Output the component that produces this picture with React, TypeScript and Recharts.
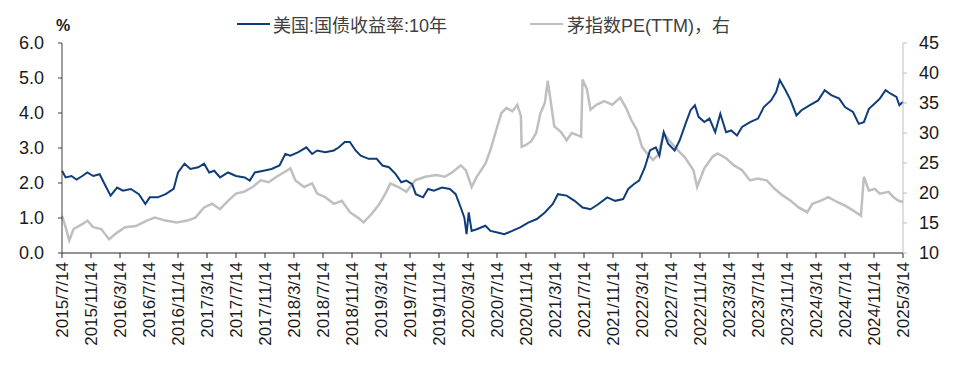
import { LineChart, Line, XAxis, YAxis } from 'recharts'

// x = months since 2015/7/14
const ustMonths = [
  0, 0.5, 1.3, 2.0, 2.8, 3.5, 4.3, 5.2, 5.8, 6.7, 7.6, 8.4, 9.5, 10.6, 11.5, 12.1, 13.2, 14.3, 15.4, 16.0,
  16.9, 17.7, 18.8, 19.6, 20.3, 21.0, 21.8, 22.9, 24.0, 25.2, 25.9, 26.6, 27.8, 28.9, 30.0, 30.8, 31.5, 32.6,
  33.7, 34.5, 35.2, 36.3, 37.5, 38.2, 39.0, 39.7, 40.5, 41.2, 42.3, 43.4, 44.2, 45.1, 46.0, 46.8, 47.5, 48.3,
  48.8, 49.8, 50.5, 51.3, 52.4, 53.5, 54.3, 55.0, 55.5, 55.8, 56.1, 56.5, 57.2, 58.4, 59.1, 60.2, 61.0, 62.1,
  63.2, 64.3, 65.5, 66.6, 67.7, 68.4, 69.6, 70.7, 71.8, 72.9, 74.0, 75.2, 76.3, 77.4, 78.1, 78.9, 79.6, 80.4,
  81.1, 81.9, 82.4, 83.0, 83.6, 84.5, 85.2, 86.0, 86.7, 87.3, 87.8, 88.6, 89.3, 90.1, 90.8, 91.6, 92.3, 93.1,
  93.8, 94.9, 96.0, 96.8, 97.8, 98.5, 99.0, 99.8, 100.5, 101.3, 102.0, 103.1, 104.3, 105.2, 106.1, 107.2,
  108.0, 109.1, 109.9, 110.6, 111.3, 112.1, 112.8, 113.6, 114.3, 115.1, 115.5, 116.0,
]
const ustYield = [
  2.35, 2.16, 2.2, 2.1, 2.2, 2.3, 2.2, 2.25, 2.0, 1.64, 1.87, 1.78, 1.83, 1.68, 1.4, 1.59, 1.59, 1.68, 1.83, 2.3,
  2.55, 2.4, 2.45, 2.55, 2.3, 2.35, 2.16, 2.3, 2.2, 2.16, 2.07, 2.3, 2.35, 2.4, 2.5, 2.83, 2.78, 2.88,
  3.02, 2.83, 2.93, 2.88, 2.93, 3.02, 3.17, 3.17, 2.93, 2.78, 2.69, 2.69, 2.5, 2.45, 2.26, 2.02, 2.07, 1.97,
  1.68, 1.59, 1.83, 1.78, 1.87, 1.83, 1.68, 1.3, 1.01, 0.54, 1.16, 0.63, 0.68, 0.78, 0.63, 0.58, 0.54, 0.63,
  0.73, 0.87, 0.97, 1.16, 1.4, 1.68, 1.64, 1.49, 1.3, 1.25, 1.4, 1.59, 1.49, 1.54, 1.83, 1.97, 2.07, 2.45,
  2.93, 3.02, 2.78, 3.45, 3.12, 2.93, 3.22, 3.69, 4.08, 4.22, 3.89, 3.74, 3.84, 3.45, 3.98, 3.45, 3.5, 3.36,
  3.6, 3.74, 3.84, 4.17, 4.36, 4.6, 4.94, 4.65, 4.36, 3.93, 4.08, 4.22, 4.36, 4.65, 4.51, 4.41,
  4.17, 4.03, 3.69, 3.74, 4.12, 4.27, 4.41, 4.65, 4.55, 4.46, 4.22, 4.32,
]

const peMonths = [
  0, 0.5, 1.0, 1.6, 2.8, 3.5, 4.3, 5.4, 6.5, 7.6, 8.7, 10.2, 11.7, 12.8, 14.3, 15.8, 17.3, 18.4, 19.6, 20.7,
  21.8, 22.9, 24.0, 25.1, 26.3, 27.4, 28.5, 29.6, 30.7, 31.5, 32.2, 33.4, 34.5, 35.2, 36.3, 37.5, 38.6, 39.7,
  40.8, 41.6, 42.7, 43.8, 44.6, 45.3, 46.4, 47.5, 48.7, 50.1, 51.6, 52.8, 53.9, 55.0, 55.7, 56.5, 57.2, 58.4,
  59.1, 59.9, 60.6, 61.3, 62.1, 62.8, 63.3, 63.4, 64.0, 64.7, 65.4, 66.0, 66.6, 67.0, 67.5, 67.9, 68.8, 69.6,
  70.3, 71.0, 71.6, 71.8, 72.4, 72.9, 73.7, 74.8, 75.9, 77.0, 77.8, 78.5, 79.3, 80.0, 80.7, 81.5, 82.2, 83.0,
  83.7, 84.9, 86.0, 87.1, 87.6, 88.6, 89.7, 90.4, 91.6, 92.7, 93.8, 94.9, 96.0, 97.2, 98.3, 99.4, 100.5,
  101.6, 102.8, 103.5, 104.6, 105.7, 106.9, 108.0, 109.1, 110.2, 110.6, 111.3, 112.1, 112.8, 114.0, 114.7,
  115.4, 116.0,
]
const peValue = [
  16.2, 14.3, 12.1, 14.0, 14.8, 15.4, 14.3, 14.0, 12.3, 13.4, 14.3, 14.5, 15.4, 15.9, 15.4, 15.1, 15.4, 15.9, 17.6, 18.2,
  17.3, 18.7, 19.9, 20.2, 21.0, 22.1, 21.8, 22.7, 23.5, 24.1, 22.1, 21.0, 21.6, 19.9, 19.3, 18.2, 18.7, 16.8,
  15.9, 15.1, 16.5, 18.2, 19.9, 21.6, 21.0, 20.2, 22.1, 22.7, 23.0, 22.7, 23.5, 24.6, 23.8, 21.0, 22.7, 24.9,
  27.2, 30.5, 33.3, 34.2, 33.6, 34.7, 32.8, 27.7, 28.0, 28.6, 30.0, 33.3, 35.0, 38.7, 34.5, 31.1, 30.2, 28.8,
  30.0, 29.7, 29.4, 38.9, 37.3, 33.9, 34.7, 35.3, 34.7, 35.9, 34.2, 32.2, 30.5, 27.7, 26.6, 25.5, 26.3, 30.0,
  28.8, 27.2, 25.8, 23.8, 21.0, 24.1, 26.0, 26.6, 25.8, 24.6, 23.8, 22.1, 22.4, 22.1, 20.7, 19.6, 18.7,
  17.6, 16.8, 18.2, 18.7, 19.3, 18.5, 17.9, 17.1, 16.2, 22.7, 20.4, 20.7, 19.9, 20.2, 19.3,
  18.7, 18.5,
]

const tickLabels = [
  '2015/7/14', '2015/11/14', '2016/3/14', '2016/7/14', '2016/11/14', '2017/3/14', '2017/7/14', '2017/11/14',
  '2018/3/14', '2018/7/14', '2018/11/14', '2019/3/14', '2019/7/14', '2019/11/14', '2020/3/14', '2020/7/14',
  '2020/11/14', '2021/3/14', '2021/7/14', '2021/11/14', '2022/3/14', '2022/7/14', '2022/11/14', '2023/3/14',
  '2023/7/14', '2023/11/14', '2024/3/14', '2024/7/14', '2024/11/14', '2025/3/14',
]
const tickMonths = tickLabels.map((_, i) => i * 4)
const leftTicks = [0, 1, 2, 3, 4, 5, 6]
const rightTicks = [10, 15, 20, 25, 30, 35, 40, 45]

const NAVY = '#0f3d7a'
const GRAY = '#bfbfbf'
const FONT = '"Liberation Sans", Arial, "Noto Sans CJK SC", sans-serif'

// merge both series into one table keyed by month
const byMonth = new Map<number, { t: number; ust?: number; pe?: number }>()
ustMonths.forEach((t, i) => {
  const row = byMonth.get(t) ?? { t }
  row.ust = ustYield[i]
  byMonth.set(t, row)
})
peMonths.forEach((t, i) => {
  const row = byMonth.get(t) ?? { t }
  row.pe = peValue[i]
  byMonth.set(t, row)
})
const rows = [...byMonth.values()].sort((a, b) => a.t - b.t)

function DateTick({ x, y, payload }: any) {
  const label = tickLabels[Math.round(payload.value / 4)]
  return (
    <text
      x={x}
      y={y}
      transform={`rotate(-90, ${x}, ${y})`}
      textAnchor="end"
      dominantBaseline="central"
      fontSize={17}
      fill="#1a1a1a"
      fontFamily={FONT}
    >
      {label}
    </text>
  )
}

export default function App() {
  return (
    <div style={{ position: 'relative', width: 944, height: 349, fontFamily: FONT }}>
      <LineChart
        width={944}
        height={349}
        data={rows}
        margin={{ top: 35, right: 0, left: 0, bottom: 0 }}
      >
        <XAxis
          dataKey="t"
          type="number"
          domain={[0, 116]}
          ticks={tickMonths}
          interval={0}
          height={104}
          tickSize={5}
          tickMargin={4}
          stroke="#262626"
          tick={<DateTick />}
        />
        <YAxis
          yAxisId="left"
          domain={[0, 6]}
          ticks={leftTicks}
          width={54}
          tickSize={4}
          tickMargin={14}
          stroke="#404040"
          tick={{ fill: '#1a1a1a', fontSize: 18 }}
          tickFormatter={(v: number) => v.toFixed(1)}
        />
        <YAxis
          yAxisId="right"
          orientation="right"
          domain={[10, 45]}
          ticks={rightTicks}
          width={49}
          tickSize={4}
          tickMargin={12}
          stroke={GRAY}
          tick={{ fill: '#1a1a1a', fontSize: 18 }}
        />
        <Line
          yAxisId="right"
          dataKey="pe"
          stroke={GRAY}
          strokeWidth={2.5}
          dot={false}
          connectNulls
          type="linear"
          isAnimationActive={false}
        />
        <Line
          yAxisId="left"
          dataKey="ust"
          stroke={NAVY}
          strokeWidth={2}
          dot={false}
          connectNulls
          type="linear"
          isAnimationActive={false}
        />
      </LineChart>

      <div style={{ position: 'absolute', left: 48, top: 9, fontSize: 16, fontWeight: 'bold', color: '#1a1a1a' }}>%</div>

      <div style={{ position: 'absolute', left: 229, top: 3, display: 'flex', alignItems: 'center', fontSize: 18, color: '#404040' }}>
        <span style={{ display: 'inline-block', width: 33, height: 2, background: NAVY, marginRight: 3 }} />
        <span>美国:国债收益率:10年</span>
      </div>
      <div style={{ position: 'absolute', left: 522, top: 3, display: 'flex', alignItems: 'center', fontSize: 18, color: '#404040' }}>
        <span style={{ display: 'inline-block', width: 33, height: 2.5, background: GRAY, marginRight: 4 }} />
        <span>茅指数PE(TTM)，右</span>
      </div>
    </div>
  )
}
